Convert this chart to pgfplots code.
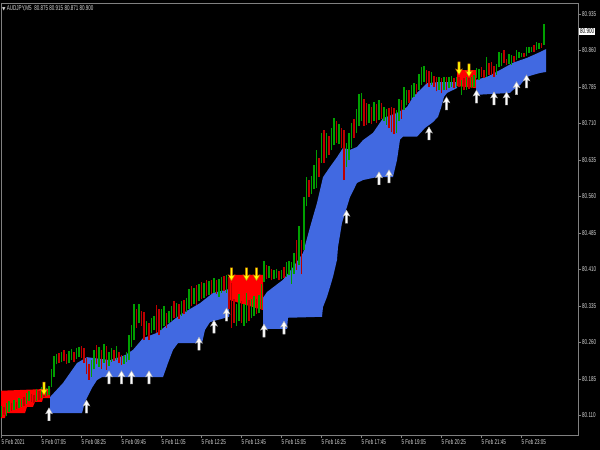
\documentclass[border=0pt]{standalone}
\usepackage{pgfplots}
\pgfplotsset{compat=1.18}
\usepackage{pgfplotstable}
\usepackage{fontspec}
\setmainfont{Liberation Sans}
\newfontfamily\mt[FakeStretch=0.65]{Liberation Sans}
\newfontfamily\sym{DejaVu Sans}

\definecolor{bandblue}{RGB}{65,105,225}
\definecolor{bandred}{RGB}{255,0,0}
\definecolor{cup}{RGB}{0,160,0}
\definecolor{cdn}{RGB}{190,0,0}
\definecolor{txt}{RGB}{215,215,215}
\definecolor{axgray}{RGB}{128,128,128}
\definecolor{arrowyel}{RGB}{255,255,0}

% arrow marks, tip at the data point
\pgfdeclareplotmark{mtup}{%
  \pgfpathmoveto{\pgfqpoint{0bp}{0bp}}%
  \pgfpathlineto{\pgfqpoint{3.4bp}{-6bp}}%
  \pgfpathlineto{\pgfqpoint{1.1bp}{-5bp}}%
  \pgfpathlineto{\pgfqpoint{1.1bp}{-13bp}}%
  \pgfpathlineto{\pgfqpoint{-1.1bp}{-13bp}}%
  \pgfpathlineto{\pgfqpoint{-1.1bp}{-5bp}}%
  \pgfpathlineto{\pgfqpoint{-3.4bp}{-6bp}}%
  \pgfpathclose
  \pgfusepathqfillstroke}
\pgfdeclareplotmark{mtdown}{%
  \pgfpathmoveto{\pgfqpoint{0bp}{0bp}}%
  \pgfpathlineto{\pgfqpoint{3.4bp}{6bp}}%
  \pgfpathlineto{\pgfqpoint{1.1bp}{5bp}}%
  \pgfpathlineto{\pgfqpoint{1.1bp}{13bp}}%
  \pgfpathlineto{\pgfqpoint{-1.1bp}{13bp}}%
  \pgfpathlineto{\pgfqpoint{-1.1bp}{5bp}}%
  \pgfpathlineto{\pgfqpoint{-3.4bp}{6bp}}%
  \pgfpathclose
  \pgfusepathqfillstroke}

% bar index x (M5, bar 0 = 05:45), prices
\pgfplotstableread{
x lo hi
0 80.108 80.130
2 80.110 80.135
3 80.118 80.140
5 80.122 80.142
7 80.126 80.146
8 80.128 80.144
10 80.134 80.156
11 80.140 80.160
14 80.140 80.165
16 80.146 80.168
18 80.150 80.166
19 80.152 80.170
20 80.168 80.205
21 80.190 80.232
22 80.215 80.236
24 80.220 80.240
27 80.218 80.242
28 80.224 80.246
30 80.226 80.248
31 80.230 80.250
36 80.190 80.225
37 80.205 80.245
39 80.210 80.250
41 80.218 80.258
43 80.212 80.240
44 80.220 80.248
46 80.225 80.252
49 80.216 80.232
50 80.220 80.240
51 80.224 80.275
52 80.250 80.296
53 80.265 80.340
55 80.300 80.340
58 80.275 80.305
60 80.280 80.310
61 80.285 80.315
64 80.285 80.330
65 80.295 80.335
67 80.300 80.325
68 80.305 80.335
70 80.312 80.342
72 80.315 80.345
74 80.322 80.352
75 80.330 80.370
77 80.340 80.372
79 80.345 80.380
81 80.352 80.382
83 80.358 80.386
85 80.362 80.392
87 80.354 80.390
88 80.362 80.395
90 80.362 80.399
94 80.295 80.340
95 80.305 80.360
97 80.295 80.340
98 80.300 80.362
100 80.310 80.350
101 80.315 80.355
103 80.320 80.358
104 80.330 80.380
105 80.385 80.428
107 80.392 80.418
109 80.390 80.410
110 80.392 80.412
112 80.390 80.410
114 80.395 80.425
115 80.398 80.428
116 80.380 80.426
117 80.400 80.445
119 80.420 80.500
121 80.450 80.560
122 80.540 80.600
124 80.565 80.602
125 80.575 80.625
126 80.578 80.656
128 80.630 80.690
130 80.640 80.690
132 80.655 80.700
133 80.665 80.722
135 80.668 80.710
138 80.620 80.670
139 80.635 80.690
140 80.660 80.712
142 80.690 80.740
143 80.705 80.770
144 80.715 80.773
147 80.712 80.750
149 80.715 80.755
151 80.718 80.758
153 80.715 80.745
154 80.708 80.740
158 80.690 80.738
159 80.715 80.760
161 80.738 80.785
162 80.748 80.780
164 80.760 80.790
165 80.765 80.793
167 80.780 80.812
168 80.790 80.826
169 80.795 80.828
172 80.790 80.815
175 80.780 80.805
177 80.778 80.806
179 80.783 80.806
180 80.785 80.808
182 80.786 80.806
184 80.769 80.800
186 80.780 80.806
188 80.784 80.806
189 80.786 80.810
190 80.804 80.824
191 80.800 80.822
194 80.806 80.847
198 80.810 80.832
199 80.826 80.858
200 80.828 80.855
203 80.832 80.852
204 80.830 80.850
206 80.840 80.861
207 80.845 80.858
208 80.846 80.856
210 80.848 80.867
211 80.855 80.868
212 80.858 80.868
214 80.862 80.878
215 80.864 80.876
217 80.871 80.915
}\upc

\pgfplotstableread{
x lo hi
1 80.112 80.128
4 80.120 80.136
6 80.124 80.138
9 80.130 80.148
12 80.138 80.154
13 80.136 80.152
15 80.142 80.160
17 80.148 80.172
23 80.218 80.238
25 80.222 80.245
26 80.215 80.236
29 80.220 80.240
32 80.228 80.252
33 80.218 80.249
34 80.195 80.228
35 80.184 80.215
38 80.215 80.255
40 80.205 80.245
42 80.204 80.252
45 80.222 80.245
47 80.218 80.240
48 80.214 80.234
54 80.290 80.330
56 80.295 80.325
57 80.265 80.322
59 80.265 80.300
62 80.280 80.338
63 80.275 80.330
66 80.290 80.320
69 80.310 80.345
71 80.308 80.340
73 80.318 80.348
76 80.335 80.376
78 80.338 80.378
80 80.350 80.385
82 80.355 80.388
84 80.360 80.389
86 80.360 80.388
89 80.365 80.396
91 80.330 80.395
92 80.290 80.382
93 80.300 80.350
96 80.300 80.345
99 80.305 80.348
102 80.318 80.350
106 80.390 80.420
108 80.388 80.412
111 80.388 80.408
113 80.392 80.415
118 80.410 80.470
120 80.400 80.470
123 80.560 80.595
127 80.600 80.640
129 80.630 80.697
131 80.645 80.685
134 80.670 80.715
136 80.660 80.700
137 80.594 80.697
141 80.680 80.720
145 80.705 80.760
146 80.708 80.752
148 80.710 80.745
150 80.712 80.750
152 80.720 80.752
155 80.700 80.742
156 80.692 80.745
157 80.688 80.742
160 80.720 80.758
163 80.752 80.778
166 80.770 80.792
170 80.792 80.820
171 80.786 80.818
173 80.785 80.808
174 80.776 80.806
176 80.772 80.804
178 80.780 80.805
181 80.783 80.804
183 80.785 80.805
185 80.778 80.803
187 80.782 80.804
192 80.806 80.826
193 80.804 80.820
195 80.810 80.835
196 80.809 80.837
197 80.806 80.828
201 80.834 80.861
202 80.830 80.842
205 80.836 80.848
209 80.846 80.855
213 80.858 80.872
216 80.866 80.876
}\dnc

\begin{document}
\begin{tikzpicture}
\fill[black] (0,0) rectangle (600bp,450bp);
\begin{axis}[
  at={(1bp,15bp)}, anchor=south west,
  scale only axis, width=577bp, height=432bp,
  xmin=-0.2, xmax=230.6, ymin=80.0701, ymax=80.9578,
  axis line style={draw=axgray, line width=0.8bp},
  xtick={0,16,...,208},
  xticklabels={5 Feb 2021, 5 Feb 07:05, 5 Feb 08:25, 5 Feb 09:45, 5 Feb 11:05,
    5 Feb 12:25, 5 Feb 13:45, 5 Feb 15:05, 5 Feb 16:25, 5 Feb 17:45,
    5 Feb 19:05, 5 Feb 20:25, 5 Feb 21:45, 5 Feb 23:05},
  ytick={80.110,80.185,80.260,80.335,80.410,80.485,80.560,80.635,80.710,80.785,80.860,80.935},
  yticklabels={80.110,80.185,80.260,80.335,80.410,80.485,80.560,80.635,80.710,80.785,80.860,80.935},
  xtick pos=bottom, ytick pos=right, yticklabel pos=right,
  tick align=outside, major tick length=3bp,
  tick style={draw=axgray, line width=0.6bp},
  ticklabel style={font=\mt\fontsize{7}{8}\selectfont, text=txt},
  xticklabel style={anchor=north west, xshift=-1.5bp, inner sep=1.5bp},
  yticklabel style={anchor=west, inner sep=1bp},
]
% trend band
\addplot[fill=bandred, draw=none, forget plot] coordinates {
  (-0.2,80.161) (19.4,80.165) (19.4,80.146) (16.6,80.146) (16.2,80.138) (13.4,80.138)
  (12.6,80.128) (10.2,80.128) (9.4,80.115) (1.8,80.115) (1.4,80.105) (-0.2,80.105)};
\addplot[fill=bandblue, draw=none, forget plot] coordinates {
  (19.4,80.148) (24.6,80.177) (30.2,80.218) (34.2,80.230) (43.4,80.224) (49.4,80.234)
  (52.6,80.245) (56.6,80.269) (62.2,80.280) (66.2,80.296) (71.4,80.317) (79.4,80.341)
  (84.6,80.362) (91.0,80.370)
  (91.0,80.313) (83.4,80.302) (81.4,80.286) (80.2,80.259) (70.6,80.259) (68.6,80.245)
  (66.6,80.218) (64.6,80.189) (40.2,80.189) (38.2,80.183) (36.2,80.167) (33.4,80.138)
  (32.2,80.115) (19.4,80.115)};
\addplot[fill=bandred, draw=none, forget plot] coordinates {
  (91.0,80.399) (104.6,80.399) (104.6,80.327) (98,80.337) (91.0,80.348)};
\addplot[fill=bandblue, draw=none, forget plot] coordinates {
  (104.6,80.352) (106.2,80.364) (112.6,80.389) (116.6,80.415) (120.6,80.444) (123.4,80.497)
  (126.2,80.547) (128.6,80.600) (131.4,80.621) (134.2,80.641) (136.6,80.660) (139.4,80.656)
  (142.2,80.662) (144.6,80.676) (148.6,80.691) (152.6,80.721) (158.2,80.732) (162.2,80.744)
  (164.6,80.765) (167.4,80.779) (170.2,80.793) (174.2,80.795) (182.2,80.795)
  (182.2,80.783) (178.2,80.773) (177.0,80.765) (175.8,80.742) (174.6,80.724) (172.6,80.713)
  (169.4,80.701) (166.2,80.683) (160.6,80.683) (159.4,80.677) (158.2,80.635) (156.6,80.600)
  (150.2,80.600) (144.6,80.594) (142.2,80.588) (139.4,80.559) (138.2,80.539) (136.2,80.506)
  (134.6,80.456) (134.2,80.430) (132.6,80.395) (131.4,80.374) (130.2,80.354) (128.6,80.333)
  (128.2,80.313) (114.6,80.311) (114.2,80.288) (104.6,80.288)};
\addplot[fill=bandred, draw=none, forget plot] coordinates {
  (182.2,80.820) (189.8,80.820) (189.8,80.783) (182.2,80.787)};
\addplot[fill=bandblue, draw=none, forget plot] coordinates {
  (189.8,80.800) (194.2,80.806) (199.4,80.820) (204.6,80.835) (210.2,80.845) (215.4,80.857)
  (217.8,80.863)
  (217.8,80.816) (215.4,80.814) (212.6,80.810) (210.2,80.806) (207.4,80.789) (204.6,80.779)
  (203.4,80.773) (189.8,80.769)};
% candles (low to high)
\addplot[draw=none, mark=none, forget plot,
  error bars/.cd, y dir=plus, y explicit, error mark=none,
  error bar style={draw=cup, line width=1.4bp}]
  table[x=x, y=lo, y error expr=\thisrow{hi}-\thisrow{lo}] {\upc};
\addplot[draw=none, mark=none, forget plot,
  error bars/.cd, y dir=plus, y explicit, error mark=none,
  error bar style={draw=cdn, line width=1.4bp}]
  table[x=x, y=lo, y error expr=\thisrow{hi}-\thisrow{lo}] {\dnc};
% signal arrows
\addplot[only marks, mark=mtup, mark options={fill=white, draw=gray!60, line width=0.4bp}]
  coordinates {(19,80.126) (34,80.142) (43,80.202) (48,80.202) (52,80.202) (59,80.202)
  (79,80.271) (85,80.306) (90,80.331) (105,80.298) (113,80.304) (138,80.532) (151,80.611)
  (155,80.615) (171,80.703) (178,80.765) (190,80.779) (197,80.775) (202,80.775)
  (206,80.796) (210,80.810)};
\addplot[only marks, mark=mtdown, mark options={fill=arrowyel, draw=orange!80!black, line width=0.4bp}]
  coordinates {(17,80.152) (92,80.387) (98,80.387) (102,80.387) (183,80.810) (187,80.806)};
\node[anchor=north west, inner sep=0pt, text=txt, font=\mt\fontsize{7}{8}\selectfont,
  xshift=1bp, yshift=-2bp] at (rel axis cs:0,1)
  {{\sym\fontsize{4.5}{5}\selectfont ▼}\ AUDJPY,M5\ \ 80.875 80.915 80.871 80.900};
\coordinate (lastp) at (axis cs:230.6,80.900);
\end{axis}
\node[anchor=west, fill=white, text=black, inner sep=1bp, xshift=1bp,
  font=\mt\fontsize{7}{8}\selectfont] at (lastp) {80.900};
\pgfresetboundingbox
\useasboundingbox (0,0) rectangle (600bp,450bp);
\end{tikzpicture}
\end{document}
